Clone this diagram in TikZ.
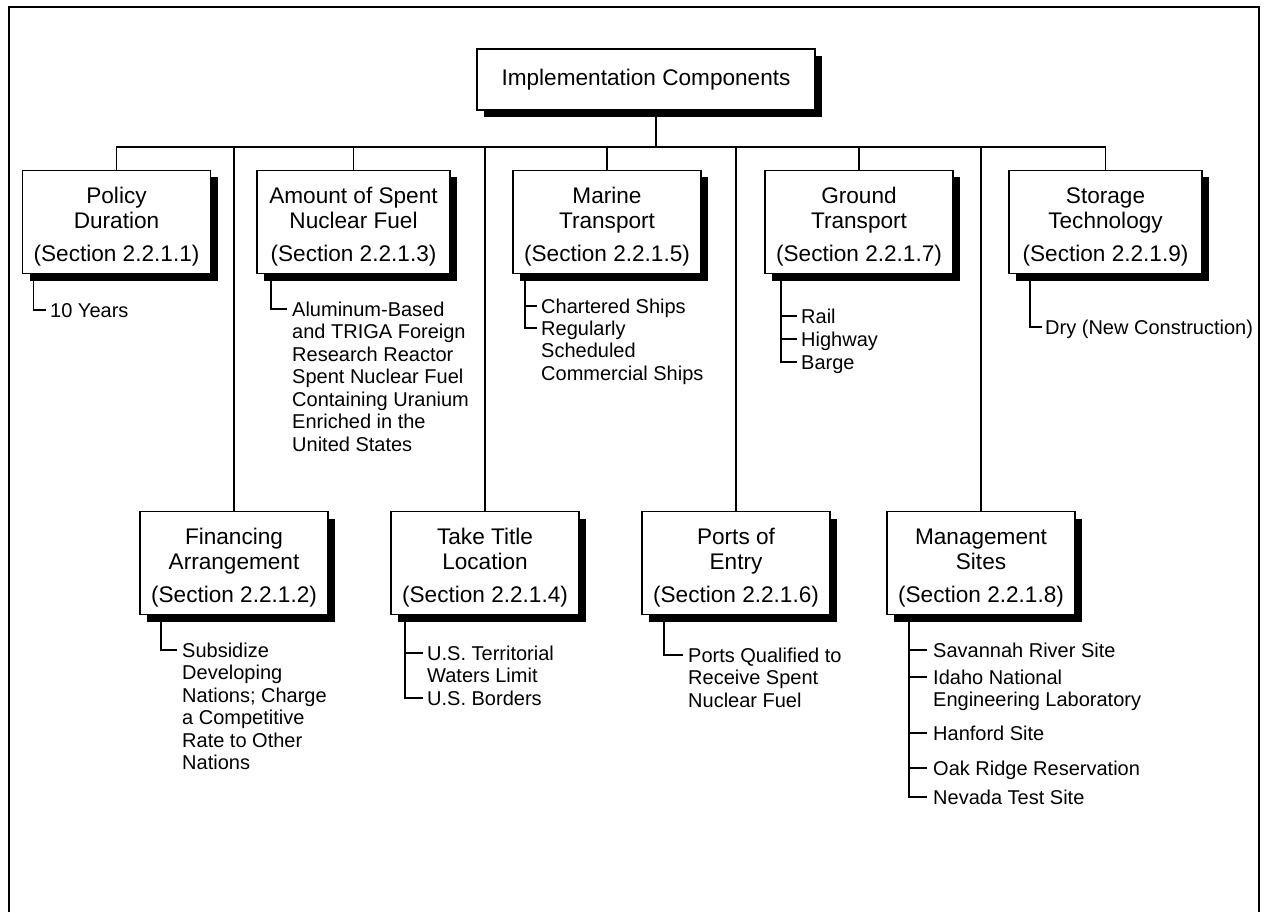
\documentclass[tikz,border=0pt]{standalone}
\usepackage{fontspec}
\setmainfont{Liberation Sans}
\usetikzlibrary{shadows}
\newcommand\titf{\fontsize{22.6}{25}\selectfont}
\newcommand\itmf{\fontsize{20}{22.5}\selectfont}
\newcommand\bxt[3]{\begin{tabular}{@{}c@{}}\rule{0pt}{27.5pt}#1\\#2\\[8pt]#3\end{tabular}}
\newcommand\lns[1]{\begin{tabular}[t]{@{}l@{}}#1\end{tabular}}
\begin{document}
\begin{tikzpicture}[x=1pt,y=-1pt,
  comp/.style={draw, line width=1.8pt, fill=white, inner sep=0pt, minimum width=188pt, minimum height=103pt, font=\titf,
    drop shadow={shadow xshift=7pt, shadow yshift=-7pt, fill=black, opacity=1}},
  itm/.style={anchor=base west, inner sep=0pt, font=\itmf},
  ln/.style={line width=1.5pt}]
\useasboundingbox (0,0) rectangle (1265,912);
% frame
\draw[line width=1.5pt] (9,912) -- (9,7) -- (1259,7) -- (1259,912);

% boxes
\node[comp, minimum width=338pt, minimum height=61pt] (top) at (646,79.5) {Implementation Components};
\node[comp] (pol) at (116.5,222) {\bxt{Policy}{Duration}{(Section 2.2.1.1)}};
\node[comp, minimum width=193pt] (amt) at (353.5,222) {\bxt{Amount of Spent}{Nuclear Fuel}{(Section 2.2.1.3)}};
\node[comp] (mar) at (607,222) {\bxt{Marine}{Transport}{(Section 2.2.1.5)}};
\node[comp] (gro) at (859,222) {\bxt{Ground}{Transport}{(Section 2.2.1.7)}};
\node[comp, minimum width=193pt] (sto) at (1105.5,222) {\bxt{Storage}{Technology}{(Section 2.2.1.9)}};
\node[comp] (fin) at (234,563) {\bxt{Financing}{Arrangement}{(Section 2.2.1.2)}};
\node[comp] (tak) at (485,563) {\bxt{Take Title}{Location}{(Section 2.2.1.4)}};
\node[comp] (por) at (736,563) {\bxt{Ports of}{Entry}{(Section 2.2.1.6)}};
\node[comp] (man) at (981,563) {\bxt{Management}{Sites}{(Section 2.2.1.8)}};

% tree connectors
\coordinate (bus) at (656,147);
\draw[ln] ([xshift=10pt]top.south) -- (bus);
\draw[ln] (pol.north) |- (bus) -| (sto.north);
\foreach \n in {amt,mar,gro,fin,tak,por,man} \draw[ln] (\n.north) -- (\n.north |- bus);

% Policy items
\node[itm] (p1) at (50,317) {10 Years};
\coordinate (pv) at ([xshift=12pt]pol.south west);
\draw[ln] (pv) |- ([xshift=-4pt,yshift=7pt]p1.base west);

% Amount items
\node[itm] (a1) at (292,316) {\lns{Aluminum-Based\\and TRIGA Foreign\\Research Reactor\\Spent Nuclear Fuel\\Containing Uranium\\Enriched in the\\United States}};
\coordinate (av) at ([xshift=15pt]amt.south west);
\draw[ln] (av) |- ([xshift=-5pt,yshift=7pt]a1.base west);

% Marine items
\node[itm] (m1) at (541,313) {Chartered Ships};
\node[itm] (m2) at (541,335) {\lns{Regularly\\Scheduled\\Commercial Ships}};
\coordinate (mv) at ([xshift=13pt]mar.south west);
\coordinate (m1t) at ([xshift=-4pt,yshift=7pt]m1.base west);
\coordinate (m2t) at ([xshift=-4pt,yshift=7pt]m2.base west);
\draw[ln] (mv) |- (m2t);
\draw[ln] (m1t) -- (m1t -| mv);

% Ground items
\node[itm] (g1) at (801,323) {Rail};
\node[itm] (g2) at (801,346) {Highway};
\node[itm] (g3) at (801,369) {Barge};
\coordinate (gv) at ([xshift=17pt]gro.south west);
\coordinate (g1t) at ([xshift=-4pt,yshift=7pt]g1.base west);
\coordinate (g2t) at ([xshift=-4pt,yshift=7pt]g2.base west);
\coordinate (g3t) at ([xshift=-4pt,yshift=7pt]g3.base west);
\draw[ln] (gv) |- (g3t);
\draw[ln] (g1t) -- (g1t -| gv);
\draw[ln] (g2t) -- (g2t -| gv);

% Storage items
\node[itm] (s1) at (1045,334) {Dry (New Construction)};
\coordinate (sv) at ([xshift=22pt]sto.south west);
\draw[ln] (sv) |- ([xshift=-3pt,yshift=7pt]s1.base west);

% Financing items
\node[itm] (f1) at (182,657) {\lns{Subsidize\\Developing\\Nations; Charge\\a Competitive\\Rate to Other\\Nations}};
\coordinate (fv) at ([xshift=22pt]fin.south west);
\draw[ln] (fv) |- ([xshift=-5pt,yshift=7pt]f1.base west);

% Take Title items
\node[itm] (t1) at (427,660) {\lns{U.S. Territorial\\Waters Limit}};
\node[itm] (t2) at (427,705) {U.S. Borders};
\coordinate (tv) at ([xshift=15pt]tak.south west);
\coordinate (t1t) at ([xshift=-4pt,yshift=7pt]t1.base west);
\coordinate (t2t) at ([xshift=-4pt,yshift=7pt]t2.base west);
\draw[ln] (tv) |- (t2t);
\draw[ln] (t1t) -- (t1t -| tv);

% Ports items
\node[itm] (o1) at (688,662) {\lns{Ports Qualified to\\Receive Spent\\Nuclear Fuel}};
\coordinate (ov) at ([xshift=23pt]por.south west);
\draw[ln] (ov) |- ([xshift=-5pt,yshift=7pt]o1.base west);

% Management items
\node[itm] (n1) at (933,657) {Savannah River Site};
\node[itm] (n2) at (933,684) {\lns{Idaho National\\Engineering Laboratory}};
\node[itm] (n3) at (933,740) {Hanford Site};
\node[itm] (n4) at (933,775) {Oak Ridge Reservation};
\node[itm] (n5) at (933,804) {Nevada Test Site};
\coordinate (nv) at ([xshift=23pt]man.south west);
\coordinate (n1t) at ([xshift=-6pt,yshift=7pt]n1.base west);
\coordinate (n2t) at ([xshift=-6pt,yshift=7pt]n2.base west);
\coordinate (n3t) at ([xshift=-6pt,yshift=7pt]n3.base west);
\coordinate (n4t) at ([xshift=-6pt,yshift=7pt]n4.base west);
\coordinate (n5t) at ([xshift=-6pt,yshift=7pt]n5.base west);
\draw[ln] (nv) |- (n5t);
\foreach \c in {n1t,n2t,n3t,n4t} \draw[ln] (\c) -- (\c -| nv);
\end{tikzpicture}
\end{document}
